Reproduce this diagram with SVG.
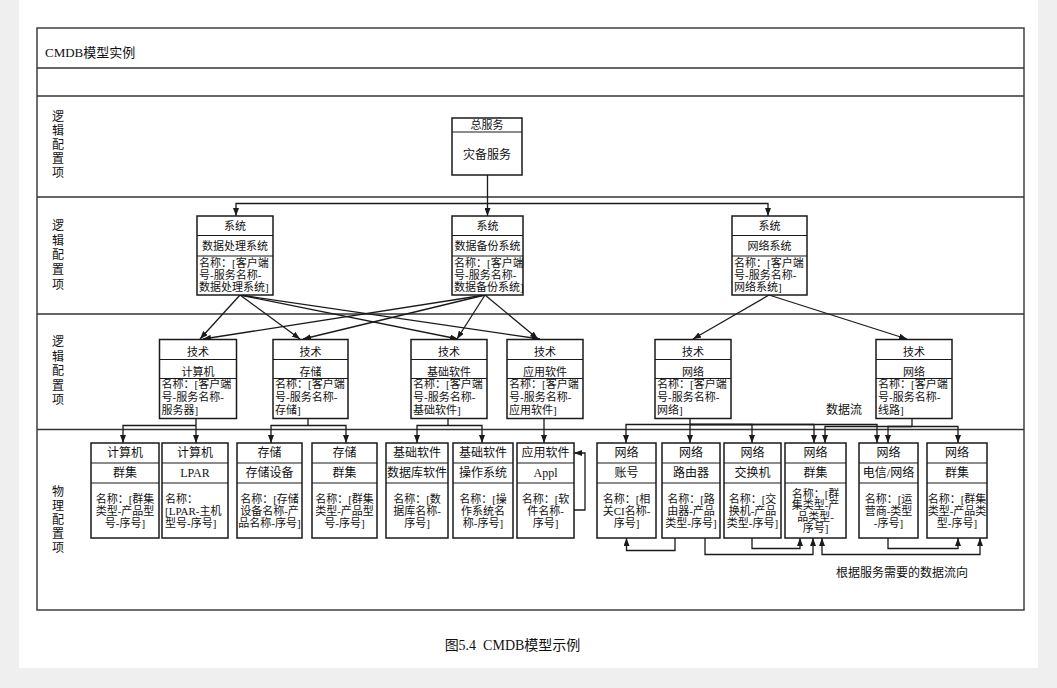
<svg xmlns="http://www.w3.org/2000/svg" width="1057" height="688" viewBox="0 0 1057 688">
<style>
.t{font-family:"Liberation Serif","Noto Sans CJK SC",serif;font-size:11px;fill:#111}
.c{text-anchor:middle}
.lbl{font-family:"Liberation Serif","Noto Sans CJK SC",serif;font-size:12px;fill:#111;text-anchor:middle}
.box{fill:#fff;stroke:#1a1a1a;stroke-width:1.5}
.dv{stroke:#1a1a1a;stroke-width:1.2}
.frame{fill:none;stroke:#333;stroke-width:1.4}
.sep{stroke:#333;stroke-width:1.4}
.conn path{fill:none;stroke:#1a1a1a;stroke-width:1.3}
.ar{marker-end:url(#ah)}
</style>
<defs>
<marker id="ah" viewBox="0 0 8 6" refX="8" refY="3" markerWidth="8" markerHeight="6" markerUnits="userSpaceOnUse" orient="auto-start-reverse"><path d="M0,0 L8,3 L0,6 z" fill="#1a1a1a"/></marker>
</defs>
<rect width="1057" height="688" fill="#efefef"/>
<rect x="19" y="0" width="1019" height="668" fill="#fff"/>

<g id="frame">
<rect class="frame" x="37" y="28" width="987" height="582"/>
<line class="sep" x1="37" y1="68" x2="1024" y2="68"/>
<line class="sep" x1="37" y1="96" x2="1024" y2="96"/>
<line class="sep" x1="37" y1="197" x2="1024" y2="197"/>
<line class="sep" x1="37" y1="314" x2="1024" y2="314"/>
<line class="sep" x1="37" y1="429.5" x2="1024" y2="429.5"/>
<text class="t" x="45" y="57" style="font-size:13px">CMDB模型实例</text>
</g>

<g id="band-labels">
<text class="lbl"><tspan x="58" y="121">逻</tspan><tspan x="58" y="135">辑</tspan><tspan x="58" y="149">配</tspan><tspan x="58" y="163">置</tspan><tspan x="58" y="177">项</tspan></text>
<text class="lbl"><tspan x="58" y="230">逻</tspan><tspan x="58" y="244.5">辑</tspan><tspan x="58" y="259">配</tspan><tspan x="58" y="274">置</tspan><tspan x="58" y="289">项</tspan></text>
<text class="lbl"><tspan x="58" y="346">逻</tspan><tspan x="58" y="360.5">辑</tspan><tspan x="58" y="375">配</tspan><tspan x="58" y="390">置</tspan><tspan x="58" y="404">项</tspan></text>
<text class="lbl"><tspan x="58" y="496">物</tspan><tspan x="58" y="510">理</tspan><tspan x="58" y="524">配</tspan><tspan x="58" y="538">置</tspan><tspan x="58" y="552">项</tspan></text>
</g>

<g class="conn" id="connectors">
<path class="ar" d="M487.5,175 V216"/>
<path class="ar" d="M487.5,203.5 H236 V216"/>
<path class="ar" d="M487.5,203.5 H768 V216"/>
<path class="ar" d="M240,295 L200,339"/>
<path class="ar" d="M240,295 L300,339"/>
<path class="ar" d="M240,295 L458,339"/>
<path class="ar" d="M240,295 L540,339"/>
<path class="ar" d="M485,295 L203,339"/>
<path class="ar" d="M485,295 L303,339"/>
<path class="ar" d="M485,295 L457,339"/>
<path class="ar" d="M485,295 L538,339"/>
<path class="ar" d="M769,295 L693,339"/>
<path class="ar" d="M769,295 L907,339"/>
<path class="ar" d="M196,418.5 V443"/>
<path class="ar" d="M196,425.5 H123 V443"/>
<path d="M308,418.5 V425.5"/>
<path class="ar" d="M308,425.5 H271 V443"/>
<path class="ar" d="M308,425.5 H346 V443"/>
<path d="M448,418.5 V425.5"/>
<path class="ar" d="M448,425.5 H417 V443"/>
<path class="ar" d="M448,425.5 H482 V443"/>
<path class="ar" d="M544,418.5 V443"/>
<path class="ar" d="M690,418.5 V443"/>
<path class="ar" d="M690,424.5 H626 V443"/>
<path class="ar" d="M690,424.5 H752 V443"/>
<path class="ar" d="M690,424.5 H814 V443"/>
<path class="ar" d="M690,424.5 H877 V443"/>
<path d="M912,418.5 V426.5"/>
<path class="ar" d="M912,426.5 H825 V443"/>
<path class="ar" d="M912,426.5 H888 V443"/>
<path class="ar" d="M912,426.5 H958 V443"/>
<path class="ar" d="M574,510 H585 V453 H574"/>
<path class="ar" d="M675,538 V550.5 H626.5 V538"/>
<path class="ar" d="M705,538 V554.5 H813 V538"/>
<path class="ar" d="M752,538 V548.5 H800 V538"/>
<path class="ar" d="M888,538 V548.5 H958 V538"/>
<path class="ar" d="M980,538 V554.5 H822 V538" style="marker-start:url(#ah)"/>
</g>

<g id="n-total">
<rect class="box" x="452" y="118" width="70" height="57"/>
<line class="dv" x1="452" y1="132" x2="522" y2="132"/>
<text class="t c" x="487" y="129">总服务</text>
<text class="t c" x="487" y="159" style="font-size:12px">灾备服务</text>
</g>

<g id="s-proc">
<rect class="box" x="197" y="216" width="76" height="79"/>
<line class="dv" x1="197" y1="235.5" x2="273" y2="235.5"/>
<line class="dv" x1="197" y1="256" x2="273" y2="256"/>
<text class="t c" x="235" y="230">系统</text>
<text class="t c" x="235" y="250">数据处理系统</text>
<text class="t" x="199" y="267">名称：[客户端</text>
<text class="t" x="199" y="279">号-服务名称-</text>
<text class="t" x="199" y="291">数据处理系统]</text>
</g>
<g id="s-backup">
<rect class="box" x="452" y="216" width="71" height="79"/>
<line class="dv" x1="452" y1="235.5" x2="523" y2="235.5"/>
<line class="dv" x1="452" y1="256" x2="523" y2="256"/>
<text class="t c" x="487.5" y="230">系统</text>
<text class="t c" x="487.5" y="250">数据备份系统</text>
<text class="t" x="454" y="267">名称：[客户端</text>
<text class="t" x="454" y="279">号-服务名称-</text>
<text class="t" x="454" y="291">数据备份系统]</text>
</g>
<g id="s-net">
<rect class="box" x="732" y="216" width="75" height="79"/>
<line class="dv" x1="732" y1="235.5" x2="807" y2="235.5"/>
<line class="dv" x1="732" y1="256" x2="807" y2="256"/>
<text class="t c" x="769.5" y="230">系统</text>
<text class="t c" x="769.5" y="250">网络系统</text>
<text class="t" x="734" y="267">名称：[客户端</text>
<text class="t" x="734" y="279">号-服务名称-</text>
<text class="t" x="734" y="291">网络系统]</text>
</g>

<g id="t-computer">
<rect class="box" x="159.5" y="339.5" width="77" height="79"/>
<line class="dv" x1="159.5" y1="359.5" x2="236.5" y2="359.5"/>
<line class="dv" x1="159.5" y1="378.5" x2="236.5" y2="378.5"/>
<text class="t c" x="198" y="356">技术</text>
<text class="t c" x="198" y="376">计算机</text>
<text class="t" x="161.5" y="388">名称：[客户端</text>
<text class="t" x="161.5" y="401">号-服务名称-</text>
<text class="t" x="161.5" y="414">服务器]</text>
</g>
<g id="t-storage">
<rect class="box" x="273" y="339.5" width="75" height="79"/>
<line class="dv" x1="273" y1="359.5" x2="348" y2="359.5"/>
<line class="dv" x1="273" y1="378.5" x2="348" y2="378.5"/>
<text class="t c" x="310.5" y="356">技术</text>
<text class="t c" x="310.5" y="376">存储</text>
<text class="t" x="275" y="388">名称：[客户端</text>
<text class="t" x="275" y="401">号-服务名称-</text>
<text class="t" x="275" y="414">存储]</text>
</g>
<g id="t-basesw">
<rect class="box" x="411" y="339.5" width="76" height="79"/>
<line class="dv" x1="411" y1="359.5" x2="487" y2="359.5"/>
<line class="dv" x1="411" y1="378.5" x2="487" y2="378.5"/>
<text class="t c" x="449" y="356">技术</text>
<text class="t c" x="449" y="376">基础软件</text>
<text class="t" x="413" y="388">名称：[客户端</text>
<text class="t" x="413" y="401">号-服务名称-</text>
<text class="t" x="413" y="414">基础软件]</text>
</g>
<g id="t-appsw">
<rect class="box" x="507" y="339.5" width="76" height="79"/>
<line class="dv" x1="507" y1="359.5" x2="583" y2="359.5"/>
<line class="dv" x1="507" y1="378.5" x2="583" y2="378.5"/>
<text class="t c" x="545" y="356">技术</text>
<text class="t c" x="545" y="376">应用软件</text>
<text class="t" x="509" y="388">名称：[客户端</text>
<text class="t" x="509" y="401">号-服务名称-</text>
<text class="t" x="509" y="414">应用软件]</text>
</g>
<g id="t-net">
<rect class="box" x="655" y="339.5" width="76" height="79"/>
<line class="dv" x1="655" y1="359.5" x2="731" y2="359.5"/>
<line class="dv" x1="655" y1="378.5" x2="731" y2="378.5"/>
<text class="t c" x="693" y="356">技术</text>
<text class="t c" x="693" y="376">网络</text>
<text class="t" x="657" y="388">名称：[客户端</text>
<text class="t" x="657" y="401">号-服务名称-</text>
<text class="t" x="657" y="414">网络]</text>
</g>
<g id="t-line">
<rect class="box" x="876" y="339.5" width="76" height="79"/>
<line class="dv" x1="876" y1="359.5" x2="952" y2="359.5"/>
<line class="dv" x1="876" y1="378.5" x2="952" y2="378.5"/>
<text class="t c" x="914" y="356">技术</text>
<text class="t c" x="914" y="376">网络</text>
<text class="t" x="878" y="388">名称：[客户端</text>
<text class="t" x="878" y="401">号-服务名称-</text>
<text class="t" x="878" y="414">线路]</text>
</g>
<text class="lbl" x="844" y="414">数据流</text>

<g id="p-comp-cluster">
<rect class="box" x="91" y="443" width="68" height="95"/>
<line class="dv" x1="91" y1="463" x2="159" y2="463"/>
<line class="dv" x1="91" y1="483" x2="159" y2="483"/>
<text class="t c" x="125" y="457" style="font-size:12px">计算机</text>
<text class="t c" x="125" y="477" style="font-size:12px">群集</text>
<text class="t c" x="125" y="503">名称：[群集</text>
<text class="t c" x="125" y="515">类型-产品型</text>
<text class="t c" x="125" y="527">号-序号]</text>
</g>
<g id="p-lpar">
<rect class="box" x="162" y="443" width="66" height="95"/>
<line class="dv" x1="162" y1="463" x2="228" y2="463"/>
<line class="dv" x1="162" y1="483" x2="228" y2="483"/>
<text class="t c" x="195" y="457" style="font-size:12px">计算机</text>
<text class="t c" x="195" y="477" style="font-size:12px">LPAR</text>
<text class="t" x="165" y="503">名称：</text>
<text class="t" x="165" y="515">[LPAR-主机</text>
<text class="t" x="165" y="527">型号-序号]</text>
</g>
<g id="p-storage-dev">
<rect class="box" x="237" y="443" width="65" height="95"/>
<line class="dv" x1="237" y1="463" x2="302" y2="463"/>
<line class="dv" x1="237" y1="483" x2="302" y2="483"/>
<text class="t c" x="269.5" y="457" style="font-size:12px">存储</text>
<text class="t c" x="269.5" y="477" style="font-size:12px">存储设备</text>
<text class="t c" x="269.5" y="503">名称：[存储</text>
<text class="t c" x="269.5" y="515">设备名称-产</text>
<text class="t c" x="269.5" y="527">品名称-序号]</text>
</g>
<g id="p-storage-cluster">
<rect class="box" x="312" y="443" width="65" height="95"/>
<line class="dv" x1="312" y1="463" x2="377" y2="463"/>
<line class="dv" x1="312" y1="483" x2="377" y2="483"/>
<text class="t c" x="344.5" y="457" style="font-size:12px">存储</text>
<text class="t c" x="344.5" y="477" style="font-size:12px">群集</text>
<text class="t c" x="344.5" y="503">名称：[群集</text>
<text class="t c" x="344.5" y="515">类型-产品型</text>
<text class="t c" x="344.5" y="527">号-序号]</text>
</g>
<g id="p-db">
<rect class="box" x="386" y="443" width="62" height="95"/>
<line class="dv" x1="386" y1="463" x2="448" y2="463"/>
<line class="dv" x1="386" y1="483" x2="448" y2="483"/>
<text class="t c" x="417" y="457" style="font-size:12px">基础软件</text>
<text class="t c" x="417" y="477" style="font-size:12px">数据库软件</text>
<text class="t c" x="417" y="503">名称：[数</text>
<text class="t c" x="417" y="515">据库名称-</text>
<text class="t c" x="417" y="527">序号]</text>
</g>
<g id="p-os">
<rect class="box" x="453" y="443" width="60" height="95"/>
<line class="dv" x1="453" y1="463" x2="513" y2="463"/>
<line class="dv" x1="453" y1="483" x2="513" y2="483"/>
<text class="t c" x="483" y="457" style="font-size:12px">基础软件</text>
<text class="t c" x="483" y="477" style="font-size:12px">操作系统</text>
<text class="t c" x="483" y="503">名称：[操</text>
<text class="t c" x="483" y="515">作系统名</text>
<text class="t c" x="483" y="527">称-序号]</text>
</g>
<g id="p-appl">
<rect class="box" x="517" y="443" width="57" height="95"/>
<line class="dv" x1="517" y1="463" x2="574" y2="463"/>
<line class="dv" x1="517" y1="483" x2="574" y2="483"/>
<text class="t c" x="545.5" y="457" style="font-size:12px">应用软件</text>
<text class="t c" x="545.5" y="477" style="font-size:12px">Appl</text>
<text class="t c" x="545.5" y="503">名称：[软</text>
<text class="t c" x="545.5" y="515">件名称-</text>
<text class="t c" x="545.5" y="527">序号]</text>
</g>
<g id="q-account">
<rect class="box" x="597" y="443" width="59" height="95"/>
<line class="dv" x1="597" y1="463" x2="656" y2="463"/>
<line class="dv" x1="597" y1="483" x2="656" y2="483"/>
<text class="t c" x="626.5" y="457" style="font-size:12px">网络</text>
<text class="t c" x="626.5" y="477" style="font-size:12px">账号</text>
<text class="t c" x="626.5" y="503">名称：[相</text>
<text class="t c" x="626.5" y="515">关CI名称-</text>
<text class="t c" x="626.5" y="527">序号]</text>
</g>
<g id="q-router">
<rect class="box" x="662" y="443" width="58" height="95"/>
<line class="dv" x1="662" y1="463" x2="720" y2="463"/>
<line class="dv" x1="662" y1="483" x2="720" y2="483"/>
<text class="t c" x="691" y="457" style="font-size:12px">网络</text>
<text class="t c" x="691" y="477" style="font-size:12px">路由器</text>
<text class="t c" x="691" y="503">名称：[路</text>
<text class="t c" x="691" y="515">由器-产品</text>
<text class="t c" x="691" y="527">类型-序号]</text>
</g>
<g id="q-switch">
<rect class="box" x="724" y="443" width="57" height="95"/>
<line class="dv" x1="724" y1="463" x2="781" y2="463"/>
<line class="dv" x1="724" y1="483" x2="781" y2="483"/>
<text class="t c" x="752.5" y="457" style="font-size:12px">网络</text>
<text class="t c" x="752.5" y="477" style="font-size:12px">交换机</text>
<text class="t c" x="752.5" y="503">名称：[交</text>
<text class="t c" x="752.5" y="515">换机-产品</text>
<text class="t c" x="752.5" y="527">类型-序号]</text>
</g>
<g id="q-cluster">
<rect class="box" x="785" y="443" width="61" height="95"/>
<line class="dv" x1="785" y1="463" x2="846" y2="463"/>
<line class="dv" x1="785" y1="483" x2="846" y2="483"/>
<text class="t c" x="815.5" y="457" style="font-size:12px">网络</text>
<text class="t c" x="815.5" y="477" style="font-size:12px">群集</text>
<text class="t c" x="815.5" y="497.5">名称：[群</text>
<text class="t c" x="815.5" y="509">集类型-产</text>
<text class="t c" x="815.5" y="520.5">品类型-</text>
<text class="t c" x="815.5" y="532">序号]</text>
</g>
<g id="q-telecom">
<rect class="box" x="859" y="443" width="59" height="95"/>
<line class="dv" x1="859" y1="463" x2="918" y2="463"/>
<line class="dv" x1="859" y1="483" x2="918" y2="483"/>
<text class="t c" x="888.5" y="457" style="font-size:12px">网络</text>
<text class="t c" x="888.5" y="477" style="font-size:12px">电信/网络</text>
<text class="t c" x="888.5" y="503">名称：[运</text>
<text class="t c" x="888.5" y="515">营商-类型</text>
<text class="t c" x="888.5" y="527">-序号]</text>
</g>
<g id="q-cluster2">
<rect class="box" x="927" y="443" width="60" height="95"/>
<line class="dv" x1="927" y1="463" x2="987" y2="463"/>
<line class="dv" x1="927" y1="483" x2="987" y2="483"/>
<text class="t c" x="957" y="457" style="font-size:12px">网络</text>
<text class="t c" x="957" y="477" style="font-size:12px">群集</text>
<text class="t c" x="957" y="503">名称：[群集</text>
<text class="t c" x="957" y="515">类型-产品类</text>
<text class="t c" x="957" y="527">型-序号]</text>
</g>

<text class="lbl" x="902" y="577">根据服务需要的数据流向</text>
<text class="lbl" x="512.5" y="650" style="font-size:14px">图5.4&#160;&#160;CMDB模型示例</text>
</svg>
